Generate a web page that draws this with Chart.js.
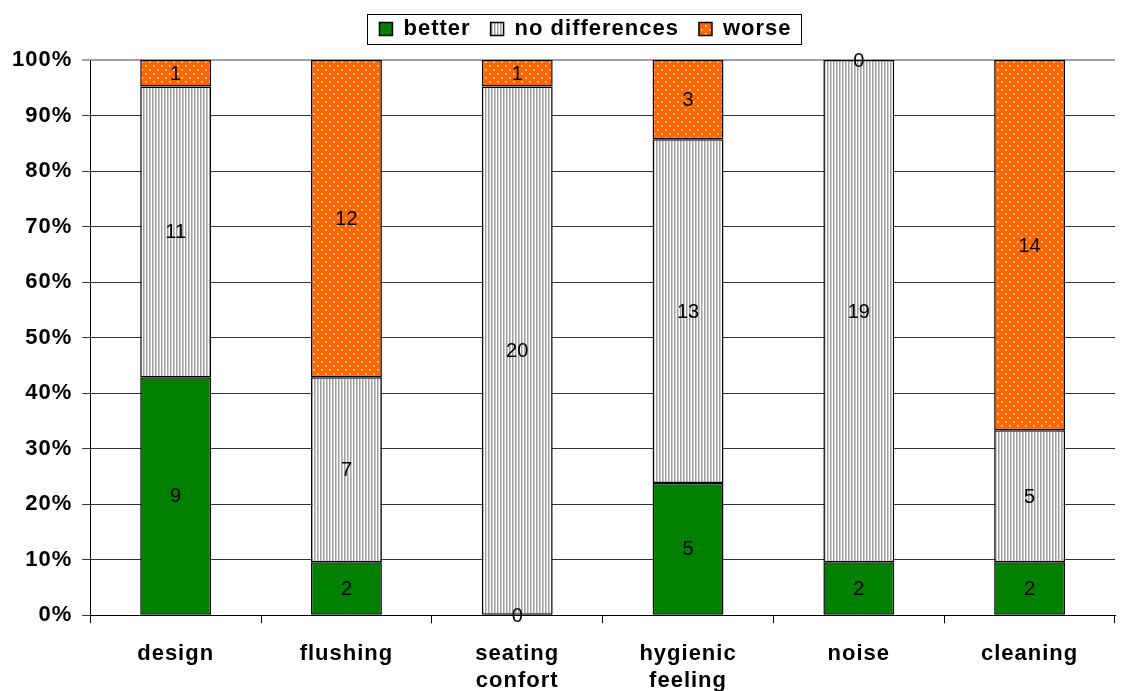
<!DOCTYPE html>
<html>
<head>
<meta charset="utf-8">
<script src="https://cdn.jsdelivr.net/npm/chart.js@4/dist/chart.umd.min.js"></script>
<style>
  html, body { margin: 0; padding: 0; background: #fff; }
  #wrap { width: 1133px; height: 691px; }
</style>
</head>
<body>
<div id="wrap"><canvas id="chart" width="1133" height="691"></canvas></div>
<script>
// categories and answer counts (21 answers per category)
var categories = ["design", "flushing", ["seating", "confort"], ["hygienic", "feeling"], "noise", "cleaning"]
var better = [9, 2, 0, 5, 2, 2]
var noDiff = [11, 7, 20, 13, 19, 5]
var worse = [1, 12, 1, 3, 0, 14]
var yTicks = [0, 10, 20, 30, 40, 50, 60, 70, 80, 90, 100]

var fontName = "'Liberation Sans', Arial, sans-serif"
var legendShift = 27

function toPercent(arr) {
  return arr.map(function (v, i) {
    var total = better[i] + noDiff[i] + worse[i]
    return v / total * 100
  })
}

// fill patterns like the old office chart
function stripePattern() {
  var c = document.createElement('canvas')
  c.width = 3; c.height = 4
  var x = c.getContext('2d')
  var cols = ['#cccccc', '#ffffff', '#a0a0a0']
  for (var i = 0; i < 3; i++) { x.fillStyle = cols[i]; x.fillRect(i, 0, 1, 4) }
  return x.createPattern(c, 'repeat')
}
function dotPattern() {
  var c = document.createElement('canvas')
  c.width = 8; c.height = 8
  var x = c.getContext('2d')
  x.fillStyle = '#ff6600'; x.fillRect(0, 0, 8, 8)
  x.fillStyle = '#ffb27a'
  x.fillRect(1, 1, 2, 2)
  x.fillRect(5, 5, 2, 2)
  x.fillStyle = '#ffe8d8'
  x.fillRect(1, 1, 1, 1)
  x.fillRect(5, 5, 1, 1)
  return x.createPattern(c, 'repeat')
}

var counts = [better, noDiff, worse]

const spacing = {
  id: 'spacing',
  beforeInit: (chart) => {
    // a bit more room under the legend
    const fit = chart.legend.fit
    chart.legend.fit = function () {
      fit.call(chart.legend)
      this.height += 10
    }
  },
  beforeUpdate: (chart) => { chart.ctx.letterSpacing = '1px' },
  beforeDraw: (chart) => { chart.ctx.letterSpacing = '1px' },
  afterLayout: (chart) => {
    chart.legend.left += legendShift
    chart.legend.right += legendShift
  }
}

const countLabels = {
  id: 'countLabels',
  afterDatasetsDraw: (chart) => {
    const {ctx} = chart
    ctx.save()
    ctx.letterSpacing = '0px'
    ctx.font = '20px ' + fontName
    ctx.fillStyle = '#000'
    ctx.textAlign = 'center'
    ctx.textBaseline = 'middle'
    chart.data.datasets.forEach(function (ds, di) {
      var meta = chart.getDatasetMeta(di)
      meta.data.forEach(function (bar, i) {
        var y = (bar.y + bar.base) / 2
        ctx.fillText(String(counts[di][i]), bar.x, y + 1)
      })
    })
    ctx.restore()
  }
}

const legendBox = {
  id: 'legendBox',
  afterDraw: (chart) => {
    const hits = chart.legend && chart.legend.legendHitBoxes
    if (!hits || !hits.length) return
    var last = hits[hits.length - 1]
    var l = hits[0].left - 12
    var r = last.left + last.width + 10
    var mid = hits[0].top + hits[0].height / 2
    const {ctx} = chart
    ctx.save()
    ctx.strokeStyle = '#000'
    ctx.lineWidth = 1
    ctx.strokeRect(Math.round(l) + 0.5, Math.round(mid - 15) + 0.5, Math.round(r - l), 30)
    ctx.restore()
  }
}

var config = {
  type: 'bar',
  data: {
    labels: categories,
    datasets: [
      { label: 'better', data: toPercent(better), backgroundColor: '#008000', borderColor: '#000' },
      { label: 'no differences', data: toPercent(noDiff), backgroundColor: stripePattern(), borderColor: '#000' },
      { label: 'worse', data: toPercent(worse), backgroundColor: dotPattern(), borderColor: '#000' }
    ]
  },
  options: {
    responsive: false,
    animation: false,
    layout: { padding: { left: 2, right: 18, top: -2, bottom: -21 } },
    datasets: {
      bar: {
        borderWidth: 1.5,
        borderSkipped: false,
        categoryPercentage: 1,
        barPercentage: 0.415
      }
    },
    plugins: {
      tooltip: { enabled: false },
      legend: {
        display: true,
        position: 'top',
        labels: {
          color: '#000',
          boxWidth: 13,
          boxHeight: 13,
          padding: 20,
          font: { family: fontName, size: 22, weight: 'bold' }
        }
      }
    },
    scales: {
      x: {
        stacked: true,
        offset: true,
        grid: { display: true, drawOnChartArea: false, offset: true, tickLength: 8, color: '#000' },
        border: { display: true, color: '#000' },
        ticks: {
          color: '#000',
          padding: 18,
          maxRotation: 0,
          font: { family: fontName, size: 22, weight: 'bold' }
        }
      },
      y: {
        stacked: true,
        min: 0,
        max: 100,
        afterBuildTicks: function (axis) {
          axis.ticks = yTicks.map(function (v) { return { value: v } })
        },
        grid: {
          color: function (c) { return c.tick && c.tick.value === 100 ? '#a0a0a0' : '#333' },
          lineWidth: function (c) { return c.tick && c.tick.value === 100 ? 2 : 1 },
          tickLength: 8
        },
        border: { display: true, color: '#000' },
        ticks: {
          color: '#000',
          padding: 10,
          font: { family: fontName, size: 22, weight: 'bold' },
          callback: function (v) { return v + '%' }
        }
      }
    }
  },
  plugins: [spacing, countLabels, legendBox]
}

var chart = new Chart(document.getElementById('chart'), config)
</script>
</body>
</html>
